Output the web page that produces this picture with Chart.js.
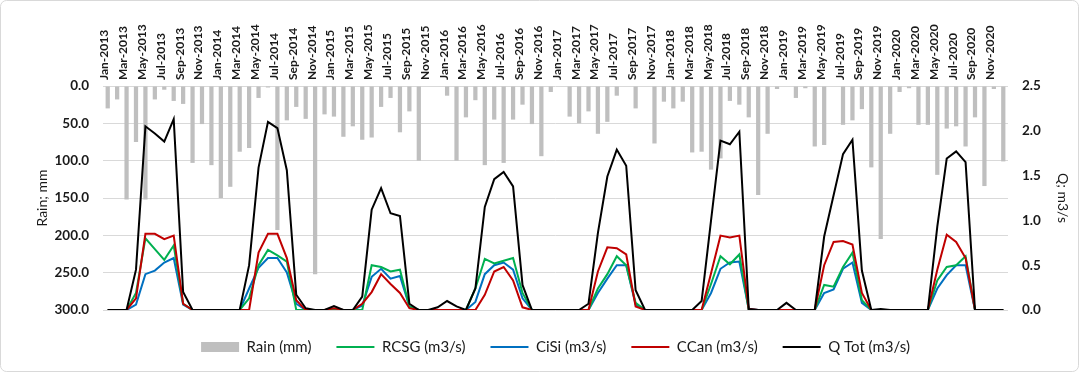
<!DOCTYPE html>
<html>
<head>
<meta charset="utf-8">
<script src="https://cdn.jsdelivr.net/npm/chart.js@4.4.1/dist/chart.umd.min.js"></script>
<style>
  html, body { margin: 0; padding: 0; background: #fff; }
  #wrap { position: relative; width: 1079px; height: 372px; }
</style>
</head>
<body>
<div id="wrap"><canvas id="c" width="1079" height="372"></canvas></div>
<script>
const YEARS = [2013, 2014, 2015, 2016, 2017, 2018, 2019, 2020];
const MONTHS = ['Jan','Feb','Mar','Apr','May','Jun','Jul','Aug','Sep','Oct','Nov','Dec'];
const categories = [];
YEARS.forEach(y => MONTHS.forEach(m => categories.push(m + '-' + y)));

const rain = [
  30, 18, 152, 75, 152, 18, 5, 20, 24, 103, 51, 106,
  150, 135, 88, 83, 16, 2, 193, 46, 28, 44, 252, 38,
  41, 68, 54, 72, 69, 28, 16, 62, 34, 100, 0, 0,
  13, 100, 42, 19, 106, 45, 103, 45, 25, 51, 94, 8,
  0, 41, 50, 34, 64, 48, 13, 0, 30, 0, 77, 21,
  30, 21, 89, 88, 112, 97, 20, 25, 42, 146, 64, 4,
  0, 16, 3, 81, 79, 0, 52, 46, 31, 109, 205, 64,
  8, 3, 52, 52, 119, 57, 54, 81, 42, 134, 4, 101
];
const rcsg = [
  0, 0, 0, 0.19, 0.80, 0.68, 0.56, 0.72, 0.07, 0, 0, 0,
  0, 0, 0, 0.13, 0.50, 0.67, 0.61, 0.54, 0, 0, 0, 0,
  0, 0, 0, 0, 0.50, 0.48, 0.43, 0.45, 0.04, 0, 0, 0,
  0, 0, 0, 0.24, 0.57, 0.52, 0.55, 0.58, 0.19, 0, 0, 0,
  0, 0, 0, 0, 0.24, 0.40, 0.60, 0.50, 0.08, 0, 0, 0,
  0, 0, 0, 0, 0.29, 0.60, 0.51, 0.62, 0, 0, 0, 0,
  0, 0, 0, 0, 0.28, 0.26, 0.48, 0.64, 0.11, 0, 0, 0,
  0, 0, 0, 0, 0.33, 0.48, 0.50, 0.60, 0, 0, 0, 0
];
const cisi = [
  0, 0, 0, 0.06, 0.40, 0.44, 0.53, 0.58, 0.06, 0, 0, 0,
  0, 0, 0, 0.24, 0.47, 0.58, 0.58, 0.42, 0.07, 0, 0, 0,
  0, 0, 0, 0.05, 0.37, 0.46, 0.35, 0.38, 0.04, 0, 0, 0,
  0, 0, 0, 0.09, 0.40, 0.50, 0.53, 0.45, 0.13, 0, 0, 0,
  0, 0, 0, 0, 0.19, 0.35, 0.50, 0.50, 0.06, 0, 0, 0,
  0, 0, 0, 0, 0.19, 0.46, 0.53, 0.54, 0.01, 0, 0, 0,
  0, 0, 0, 0, 0.19, 0.23, 0.46, 0.53, 0.08, 0, 0, 0,
  0, 0, 0, 0, 0.24, 0.39, 0.50, 0.50, 0, 0, 0, 0
];
const ccan = [
  0, 0, 0, 0.13, 0.85, 0.85, 0.79, 0.83, 0.07, 0, 0, 0,
  0, 0, 0, 0, 0.64, 0.85, 0.85, 0.58, 0.11, 0, 0, 0,
  0.02, 0, 0, 0.07, 0.20, 0.40, 0.29, 0.19, 0.02, 0, 0, 0,
  0, 0, 0, 0, 0.17, 0.43, 0.48, 0.33, 0.03, 0, 0, 0,
  0, 0, 0, 0, 0.43, 0.70, 0.69, 0.62, 0.04, 0, 0, 0,
  0, 0, 0, 0, 0.41, 0.83, 0.81, 0.83, 0.01, 0, 0, 0,
  0, 0, 0, 0, 0.50, 0.76, 0.77, 0.73, 0.19, 0, 0, 0,
  0, 0, 0, 0, 0.45, 0.84, 0.76, 0.58, 0, 0, 0, 0
];
const qtot = [
  0, 0, 0, 0.45, 2.05, 1.97, 1.88, 2.13, 0.20, 0, 0, 0,
  0, 0, 0, 0.50, 1.59, 2.10, 2.03, 1.56, 0.17, 0.02, 0, 0,
  0.045, 0, 0, 0.15, 1.12, 1.36, 1.08, 1.05, 0.07, 0, 0, 0.03,
  0.10, 0.04, 0, 0.24, 1.15, 1.46, 1.54, 1.38, 0.28, 0, 0, 0,
  0, 0, 0, 0.07, 0.86, 1.49, 1.79, 1.61, 0.22, 0, 0, 0,
  0, 0, 0, 0.10, 1.00, 1.89, 1.85, 1.99, 0.01, 0, 0, 0,
  0.08, 0, 0, 0, 0.82, 1.28, 1.74, 1.90, 0.44, 0, 0.01, 0,
  0, 0, 0, 0, 0.93, 1.69, 1.77, 1.65, 0, 0, 0, 0
];
const rainTicks = [0, 50, 100, 150, 200, 250, 300];
const qTicks = [0, 0.5, 1.0, 1.5, 2.0, 2.5];

const FONT = 'Lato, "Open Sans", "DejaVu Sans", sans-serif';
const TXT = '#1a1a1a';

const frame = {
  id: 'frame',
  beforeDraw(chart) {
    const ctx = chart.ctx;
    ctx.save();
    ctx.fillStyle = '#fff';
    ctx.fillRect(0, 0, chart.width, chart.height);
    ctx.strokeStyle = '#d9d9d9';
    ctx.lineWidth = 1;
    const r = 6, x = 0.5, y = 0.5, w = chart.width - 1, h = chart.height - 1;
    ctx.beginPath();
    ctx.moveTo(x + r, y);
    ctx.arcTo(x + w, y, x + w, y + h, r);
    ctx.arcTo(x + w, y + h, x, y + h, r);
    ctx.arcTo(x, y + h, x, y, r);
    ctx.arcTo(x, y, x + w, y, r);
    ctx.closePath();
    ctx.stroke();
    ctx.restore();
  }
};

function lineDs(label, data, color, order) {
  return {
    type: 'line', label, data, yAxisID: 'y1', order,
    borderColor: color, backgroundColor: color, borderWidth: 2,
    pointRadius: 0, pointHoverRadius: 0, tension: 0, pointStyle: 'line',
    borderJoinStyle: 'miter'
  };
}

new Chart(document.getElementById('c'), {
  data: {
    labels: categories,
    datasets: [
      { type: 'bar', label: 'Rain (mm)', data: rain, yAxisID: 'y', order: 10,
        backgroundColor: '#bfbfbf', borderWidth: 0, barPercentage: 0.45, categoryPercentage: 1.0,
        pointStyle: 'rect' },
      lineDs('RCSG (m3/s)', rcsg, '#00b050', 3),
      lineDs('CiSi (m3/s)', cisi, '#0070c0', 4),
      lineDs('CCan (m3/s)', ccan, '#c00000', 2),
      lineDs('Q Tot (m3/s)', qtot, '#000000', 1)
    ]
  },
  options: {
    responsive: false,
    animation: false,
    devicePixelRatio: 1,
    layout: { padding: { left: 0, right: 0, top: 0, bottom: 7.5 } },
    plugins: {
      tooltip: { enabled: false },
      legend: {
        position: 'bottom',
        fullSize: false,
        title: { display: true, text: '', font: { size: 4.5, lineHeight: 1 }, padding: 0 },
        labels: {
          usePointStyle: true, pointStyleWidth: 38, boxHeight: 10,
          padding: 25, color: TXT,
          font: { family: FONT, size: 15 },
          sort: (a, b) => a.datasetIndex - b.datasetIndex
        }
      }
    },
    scales: {
      x: {
        position: 'top',
        offset: true,
        grid: { display: false, drawTicks: false },
        border: { display: false },
        ticks: {
          autoSkip: false, maxRotation: 90, minRotation: 90, padding: 6, labelOffset: 11,
          color: TXT, font: { family: FONT, size: 12, weight: 'bold' },
          callback: function (v, i) { return i % 2 === 0 ? categories[i] : ''; }
        },
        afterFit: s => { s.height = 86; }
      },
      y: {
        position: 'left', reverse: true, min: 0, max: 300,
        afterBuildTicks: s => { s.ticks = rainTicks.map(v => ({ value: v })); },
        grid: { color: '#d9d9d9', lineWidth: 1, drawTicks: false },
        border: { display: false },
        ticks: { padding: 14, color: TXT, font: { family: FONT, size: 13.5, weight: 'bold' },
          callback: v => Number(v).toFixed(1) },
        title: { display: true, text: 'Rain; mm', color: TXT, font: { family: FONT, size: 14 }, padding: { top: 34, bottom: 0 } },
        afterFit: s => { s.width = 103; }
      },
      y1: {
        position: 'right', min: 0, max: 2.5,
        afterBuildTicks: s => { s.ticks = qTicks.map(v => ({ value: v })); },
        grid: { display: false, drawTicks: false },
        border: { display: false },
        ticks: { padding: 14, color: TXT, font: { family: FONT, size: 13.5, weight: 'bold' },
          callback: v => Number(v).toFixed(1) },
        title: { display: true, text: 'Q; m3/s', color: TXT, font: { family: FONT, size: 14 }, padding: { top: 8, bottom: 0 } },
        afterFit: s => { s.width = 71; }
      }
    }
  },
  plugins: [frame]
});
</script>
</body>
</html>
